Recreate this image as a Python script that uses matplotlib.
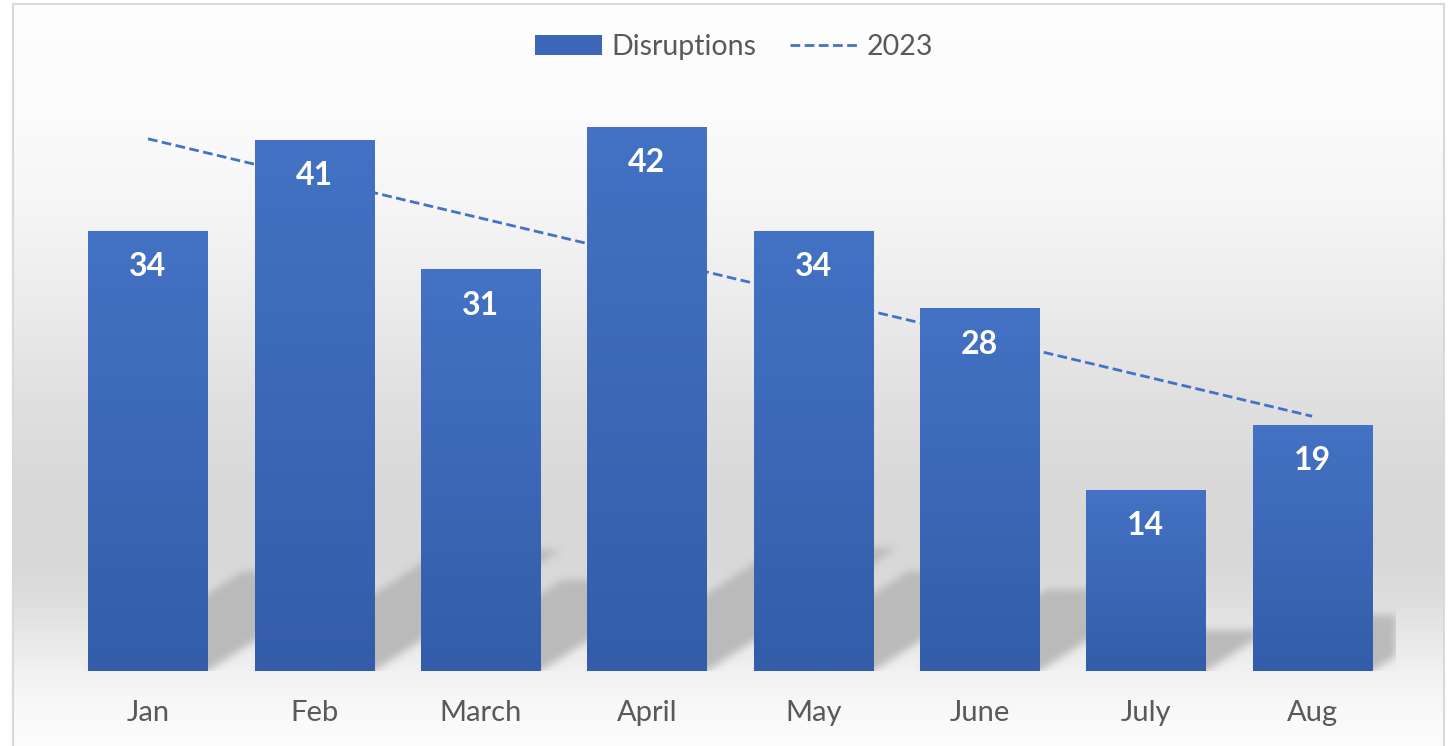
import numpy as np
import matplotlib
matplotlib.use('Agg')
import matplotlib.pyplot as plt
from matplotlib.patches import Rectangle
from matplotlib.lines import Line2D
from matplotlib.colors import LinearSegmentedColormap

# --- data ---
months = ['Jan', 'Feb', 'March', 'April', 'May', 'June', 'July', 'Aug']
disruptions = [34, 41, 31, 42, 34, 28, 14, 19]
series_name = 'Disruptions'
trend_name = '2023'

# --- style ---
BAR_TOP = '#4472C4'
BAR_BOTTOM = '#335DA9'
TREND = '#4472C4'
TEXT_GREY = '#595959'
SHADOW_GREY = 0.73

plt.rcParams['font.family'] = ['Lato', 'DejaVu Sans']

W, H = 1450, 746
fig = plt.figure(figsize=(W / 100, H / 100), dpi=100)

# chart area: soft vertical grey gradient inside a thin frame
bg = fig.add_axes([13 / W, 0, (1444 - 13) / W, 742 / H], zorder=0)
stops_y = [0, 120, 200, 300, 400, 480, 560, 600, 640, 680, 720, 746]
stops_v = [254, 251, 246, 236, 224, 217, 216, 222, 233, 244, 250, 252]
rows = np.interp(np.arange(4, 746), stops_y, stops_v) / 255
bg.imshow(np.repeat(rows[:, None, None], 3, axis=2), aspect='auto',
          extent=[0, 1, 0, 1], interpolation='bilinear')
bg.set_axis_off()
fig.patches.append(Rectangle((13 / W, -0.01), (1444 - 13) / W, 742 / H + 0.01,
                             transform=fig.transFigure, fill=False,
                             edgecolor='#d9d9d9', lw=1.5))

# plot area
ax_w, ax_h = 1330.4, 582.9
ax = fig.add_axes([64.85 / W, 75 / H, ax_w / W, ax_h / H], zorder=1)
ax.patch.set_alpha(0)

x = np.arange(len(months))
bar_w = 0.716
xlim = (-0.5, len(months) - 0.5)
ylim = (0, 45)

# perspective shadows, sheared up and to the right, then blurred
px_x = ax_w / (xlim[1] - xlim[0])
px_y = ax_h / ylim[1]
gw, gh = int(round(ax_w)), int(round(ax_h))
gx = np.arange(gw) + 0.5
gy = np.arange(gh) + 0.5
mask = np.zeros((gh, gw))
for xi, v in zip(x, disruptions):
    h = v * px_y
    top = 0.227 * h
    x0 = (xi - bar_w / 2 - xlim[0]) * px_x
    x1 = x0 + bar_w * px_x
    off = (gy / 0.65)[:, None]
    inside = (gy[:, None] <= top) & (gx[None, :] >= x0 + off) & (gx[None, :] <= x1 + off)
    mask = np.maximum(mask, inside)


def blur(a, sigma):
    r = int(3 * sigma)
    k = np.exp(-0.5 * (np.arange(-r, r + 1) / sigma) ** 2)
    k /= k.sum()
    a = np.apply_along_axis(lambda m: np.convolve(m, k, mode='same'), 1, a)
    a = np.apply_along_axis(lambda m: np.convolve(m, k, mode='same'), 0, a)
    return a


mask = blur(mask, 4.0)
shadow = np.zeros((gh, gw, 4))
shadow[..., :3] = SHADOW_GREY
shadow[..., 3] = np.clip(mask, 0, 1)
ax.imshow(shadow, extent=(xlim[0], xlim[1], 0, ylim[1]), origin='lower',
          aspect='auto', zorder=1, interpolation='bilinear')

# linear trend over the monthly values
slope, intercept = np.polyfit(x, disruptions, 1)
trend = slope * x + intercept
dash = (0, (3.5, 1.6))
ax.plot(x, trend, color=TREND, lw=2, ls=dash, zorder=2)

# bars with their own top-to-bottom gradient
bars = ax.bar(x, disruptions, width=bar_w, color=BAR_BOTTOM, zorder=3, linewidth=0)
grad = np.linspace(0, 1, 256)[:, None]
cmap = LinearSegmentedColormap.from_list('bar', [BAR_BOTTOM, BAR_TOP])
for b in bars:
    im = ax.imshow(grad, cmap=cmap, origin='lower', aspect='auto', zorder=3.5,
                   extent=[b.get_x(), b.get_x() + b.get_width(), 0, b.get_height()])
    im.set_clip_path(b)

for xi, v in zip(x, disruptions):
    ax.annotate(str(v), (xi, v), xytext=(0, -36), textcoords='offset pixels',
                ha='center', va='center', color='white', fontsize=23,
                fontweight='bold', zorder=5)

ax.set_xlim(*xlim)
ax.set_ylim(*ylim)
ax.set_xticks(x, months)
ax.set_yticks([])
ax.tick_params(axis='x', length=0, pad=21, labelsize=21, labelcolor=TEXT_GREY)
for s in ax.spines.values():
    s.set_visible(False)

handles = [Rectangle((0, 0), 1, 1, facecolor='#3C67B7', edgecolor='none'),
           Line2D([], [], color=TREND, lw=2, ls=dash)]
fig.legend(handles, [series_name, trend_name], loc='center',
           bbox_to_anchor=(734 / W, 1 - 47 / H), ncol=2, frameon=False,
           fontsize=20.5, handlelength=2.35, handleheight=0.65,
           handletextpad=0.32, columnspacing=1.2, labelcolor=TEXT_GREY)

fig.savefig('out.png', dpi=100)
